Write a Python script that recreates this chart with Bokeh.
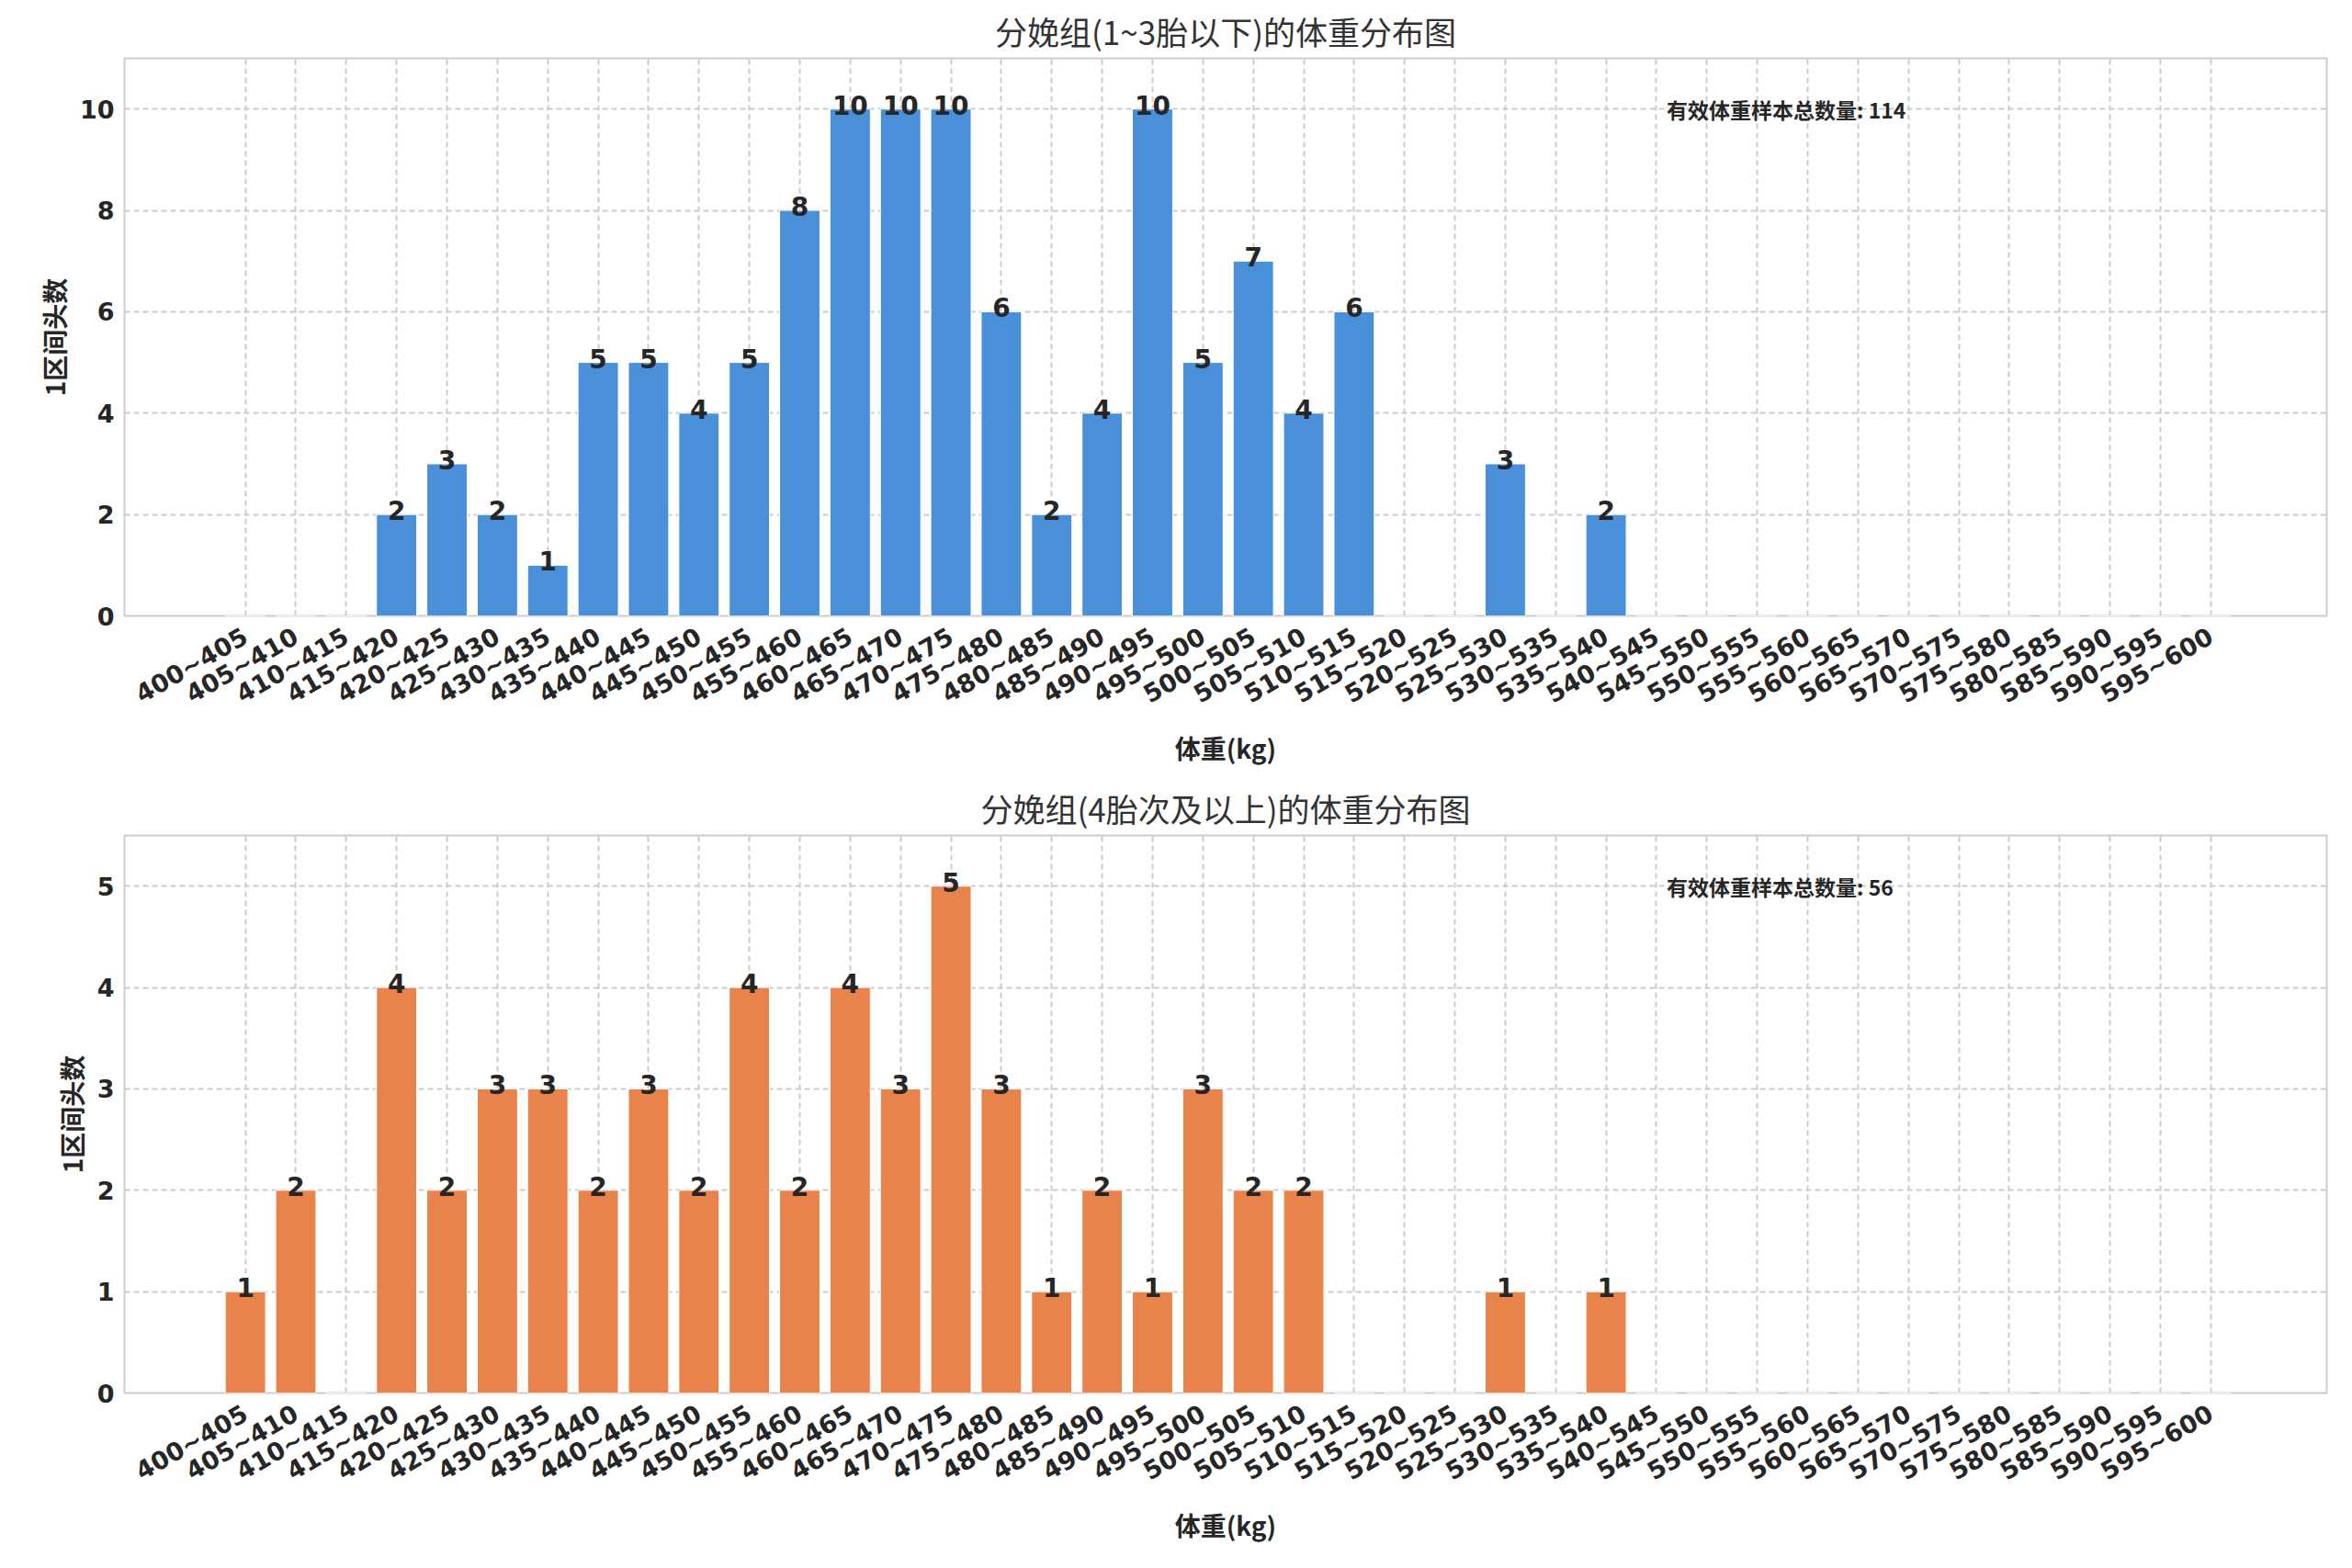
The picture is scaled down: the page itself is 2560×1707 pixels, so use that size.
from bokeh.plotting import figure
from bokeh.layouts import column
from bokeh.models import ColumnDataSource, FixedTicker, Label
from bokeh.embed import file_html
from bokeh.resources import INLINE
from bokeh.core.properties import value

categories = [f"{400+5*i}~{405+5*i}" for i in range(40)]
counts_a = [0,0,0,2,3,2,1,5,5,4,5,8,10,10,10,6,2,4,10,5,7,4,6,0,0,3,0,2,0,0,0,0,0,0,0,0,0,0,0,0]
counts_b = [1,2,0,4,2,3,3,2,3,2,4,2,4,3,5,3,1,2,1,3,2,2,0,0,0,1,0,1,0,0,0,0,0,0,0,0,0,0,0,0]
titles = ["分娩组(1~3胎以下)的体重分布图", "分娩组(4胎次及以上)的体重分布图"]
totals = [114, 56]
colors = ["#4a90d9", "#e8844b"]
ymax = [11, 5.5]
yticks = [[0, 2, 4, 6, 8, 10], [0, 1, 2, 3, 4, 5]]

FONT = "Noto Sans CJK SC"
NUM = "DejaVu Sans"

def make(counts, title, total, color, ym, yt):
    p = figure(width=2544, height=836, output_backend="svg", toolbar_location=None,
               x_range=(-2.4, 41.3), y_range=(0, ym), title=title,
               min_border_left=135, min_border_right=12, min_border_top=22, min_border_bottom=10)
    p.title.align = "center"
    p.title.text_font = FONT
    p.title.text_font_size = "35px"
    p.title.text_font_style = "normal"
    p.title.text_color = "#333333"
    xs = list(range(len(categories)))
    src = ColumnDataSource(dict(x=xs, top=counts, lab=[str(c) if c > 0 else "" for c in counts]))
    p.vbar(x="x", top="top", width=0.8, source=src, fill_color=color, line_color="white", line_width=1)
    p.text(x="x", y="top", text="lab", source=src, text_align="center", text_baseline="bottom",
           text_font=value(NUM), text_font_size="28px", text_font_style="bold", text_color="#262626",
           y_offset=6)
    p.xaxis.ticker = FixedTicker(ticks=xs)
    p.xaxis.major_label_overrides = {i: c for i, c in enumerate(categories)}
    p.xaxis.major_label_orientation = 0.52
    p.yaxis.ticker = FixedTicker(ticks=yt)
    for ax in (p.xaxis, p.yaxis):
        ax.major_label_text_font = NUM
        ax.major_label_text_font_size = "27px"
        ax.major_label_text_font_style = "bold"
        ax.major_label_text_color = "#262626"
        ax.axis_line_color = None
        ax.major_tick_line_color = None
        ax.minor_tick_line_color = None
        ax.axis_label_text_font = FONT
        ax.axis_label_text_font_size = "28px"
        ax.axis_label_text_font_style = "bold"
        ax.axis_label_text_color = "#262626"
    p.xaxis.major_label_standoff = 14
    p.xaxis.axis_label_standoff = 6
    p.xaxis.axis_label = "体重(kg)"
    p.yaxis.axis_label = "1区间头数"
    p.outline_line_color = "#cccccc"
    p.outline_line_width = 2
    p.grid.grid_line_color = "#cccccc"
    p.grid.grid_line_dash = "6 4"
    p.grid.grid_line_width = 2
    p.add_layout(Label(x=28.2, y=yt[-1], text=f"有效体重样本总数量: {total}", text_font=FONT,
                       text_font_size="23px", text_font_style="bold", text_color="#262626",
                       text_baseline="middle"))
    return p

figs = [make(counts_a, titles[0], totals[0], colors[0], ymax[0], yticks[0]),
        make(counts_b, titles[1], totals[1], colors[1], ymax[1], yticks[1])]
p = column(*figs, spacing=10)
open("out.html", "w").write(file_html(p, INLINE))
